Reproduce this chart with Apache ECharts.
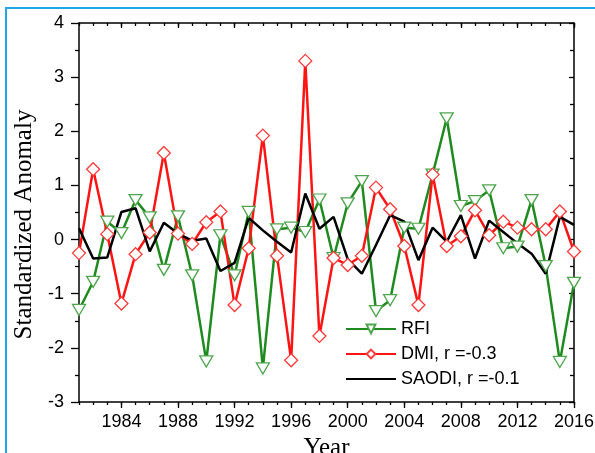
<!DOCTYPE html>
<html>
<head>
<meta charset="utf-8">
<script src="https://cdn.jsdelivr.net/npm/echarts@6/dist/echarts.min.js"></script>
<style>
html, body { margin: 0; padding: 0; background: #fff; }
#wrap { position: relative; width: 595px; height: 453px; overflow: hidden; }
#c1 { width: 595px; height: 453px; }
#frame { position: absolute; left: 5px; top: 7px; width: 700px; height: 700px;
         border: 2px solid #1ea8ea; pointer-events: none; }
</style>
</head>
<body>
<div id="wrap">
  <div id="c1"></div>
  <div id="frame"></div>
</div>
<script>
// data, one value per year 1981..2016
var years = [1981,1982,1983,1984,1985,1986,1987,1988,1989,1990,1991,1992,1993,1994,1995,1996,1997,1998,
             1999,2000,2001,2002,2003,2004,2005,2006,2007,2008,2009,2010,2011,2012,2013,2014,2015,2016];
var rfi = [-1.3,-0.78,0.33,0.12,0.73,0.41,-0.56,0.43,-0.66,-2.25,0.08,-0.66,0.51,-2.38,0.19,0.22,0.14,0.74,
           -0.34,0.67,1.08,-1.32,-1.12,0.22,0.2,1.2,2.24,0.62,0.71,0.91,-0.16,-0.13,0.73,-0.49,-2.26,-0.8];
var dmi = [-0.25,1.3,0.1,-1.18,-0.27,0.13,1.6,0.11,-0.08,0.32,0.52,-1.21,-0.16,1.92,-0.3,-2.23,3.3,-1.78,
           -0.34,-0.47,-0.3,0.96,0.56,-0.12,-1.21,1.2,-0.12,0.06,0.54,0.08,0.33,0.22,0.19,0.19,0.52,-0.22];
var saodi = [0.21,-0.35,-0.33,0.51,0.58,-0.22,0.31,0.11,-0.02,0.02,-0.58,-0.43,0.4,0.17,-0.04,-0.24,0.85,0.2,
             0.42,-0.36,-0.63,-0.1,0.45,0.33,-0.38,0.22,-0.04,0.45,-0.35,0.35,0.14,-0.07,-0.26,-0.63,0.42,0.27];
var majorYears = [1984,1988,1992,1996,2000,2004,2008,2012,2016];
var seriesNames = ['RFI', 'DMI, r =-0.3', 'SAODI, r =-0.1'];

function pairs(vals) {
    return years.map(function (y, i) { return [y, vals[i]]; });
}

var sans = 'Liberation Sans';
var serif = 'Liberation Serif';
var green = '#1f8a1f';
var red = '#ff1414';

var dom = document.getElementById('c1');
var myChart = echarts.init(dom);

// base x axis settings, used for the 4 overlaid axes (minor + major ticks, bottom + top)
function xAx(pos, major, inside, extra) {
    var a = {
        type: 'value', position: pos, min: 1981, max: 2016, interval: 1,
        axisLine: { show: true, onZero: false, lineStyle: { color: '#000', width: 1.5 } },
        axisTick: { show: true, inside: inside, length: 3, lineStyle: { color: '#000', width: 1.3 } },
        axisLabel: { show: false },
        splitLine: { show: false }
    };
    if (major) {
        a.axisLine.show = false;
        a.axisTick.customValues = majorYears;
        a.axisTick.length = inside ? 5 : 6;
    }
    return Object.assign(a, extra || {});
}

var option = {
    animation: false,
    backgroundColor: '#fff',
    grid: { left: 79, right: 21, top: 23, bottom: 51, outerBoundsMode: 'none' },
    legend: {
        orient: 'vertical', left: 345, top: 320, itemGap: 7, padding: 0,
        itemWidth: 50, itemHeight: 11,
        textStyle: { fontFamily: sans, fontSize: 18, color: '#000' },
        data: [
            { name: seriesNames[0] },
            { name: seriesNames[1] },
            { name: seriesNames[2], itemStyle: { opacity: 0 } }
        ]
    },
    xAxis: [
        xAx('bottom', false, false, {
            name: 'Year', nameLocation: 'middle', nameGap: 29,
            nameTextStyle: { fontFamily: serif, fontSize: 25, color: '#000' },
            axisLabel: { show: true, customValues: majorYears, margin: 11,
                         fontFamily: sans, fontSize: 18, color: '#000',
                         formatter: function (v) { return String(v); } }
        }),
        xAx('bottom', true, false),
        xAx('top', false, true),
        xAx('top', true, true)
    ],
    yAxis: [
        {
            type: 'value', position: 'left', min: -3, max: 4, interval: 1,
            name: 'Standardized Anomaly', nameLocation: 'middle', nameGap: 36,
            nameTextStyle: { fontFamily: serif, fontSize: 25, color: '#000', padding: [0, 24, 0, 0] },
            axisLine: { show: true, lineStyle: { color: '#000', width: 1.5 } },
            axisTick: { show: true, length: 8, lineStyle: { color: '#000', width: 1.3 } },
            minorTick: { show: true, splitNumber: 2, length: 4, lineStyle: { color: '#000', width: 1.3 } },
            axisLabel: { margin: 15, fontFamily: sans, fontSize: 18, color: '#000' },
            splitLine: { show: false }
        },
        {
            type: 'value', position: 'right', min: -3, max: 4, interval: 1,
            axisLine: { show: true, lineStyle: { color: '#000', width: 1.5 } },
            axisTick: { show: true, inside: true, length: 5, lineStyle: { color: '#000', width: 1.3 } },
            minorTick: { show: true, splitNumber: 2, length: 4, lineStyle: { color: '#000', width: 1.3 } },
            axisLabel: { show: false },
            splitLine: { show: false }
        }
    ],
    series: [
        {
            name: seriesNames[0], type: 'line', data: pairs(rfi),
            symbol: 'triangle', symbolRotate: 180, symbolSize: [13, 11], showAllSymbol: true,
            lineStyle: { color: green, width: 2.5 },
            itemStyle: { color: '#fff', borderColor: '#4ea54e', borderWidth: 1.3 }
        },
        {
            name: seriesNames[1], type: 'line', data: pairs(dmi),
            symbol: 'diamond', symbolSize: 13, showAllSymbol: true,
            lineStyle: { color: red, width: 2.5 },
            itemStyle: { color: '#fff', borderColor: '#ff3a3a', borderWidth: 1.3 }
        },
        {
            name: seriesNames[2], type: 'line', data: pairs(saodi),
            symbol: 'none',
            lineStyle: { color: '#000', width: 2.5 },
            itemStyle: { color: '#000' }
        }
    ]
};

if (option && typeof option === "object") {
    myChart.setOption(option, true);
}
</script>
</body>
</html>
